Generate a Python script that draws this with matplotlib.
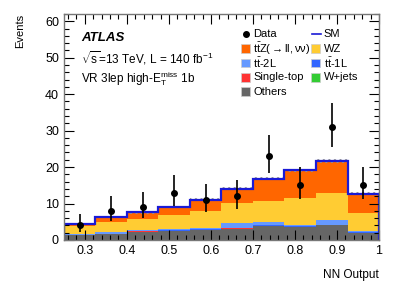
import numpy as np
import matplotlib.pyplot as plt
from matplotlib.patches import Rectangle
from matplotlib.ticker import MultipleLocator

plt.rcParams['font.family'] = ['Liberation Sans', 'DejaVu Sans']
plt.rcParams['mathtext.fontset'] = 'custom'
plt.rcParams['mathtext.rm'] = 'Liberation Sans'
plt.rcParams['mathtext.it'] = 'Liberation Sans:italic'

edges = [0.25, 0.325, 0.4, 0.475, 0.55, 0.625, 0.7, 0.775, 0.85, 0.925, 1.0]

# background stack, bottom to top
others = [1.3, 1.6, 2.3, 2.5, 2.8, 3.1, 3.8, 3.6, 4.0, 2.0]
single_top = [0.05, 0.0, 0.05, 0.0, 0.0, 0.1, 0.1, 0.05, 0.1, 0.0]
wjets = [0.0, 0.0, 0.0, 0.0, 0.0, 0.0, 0.0, 0.0, 0.0, 0.0]
tt1l = [0.0, 0.1, 0.1, 0.1, 0.1, 0.1, 0.1, 0.1, 0.1, 0.1]
tt2l = [0.2, 0.4, 0.4, 0.4, 0.4, 1.3, 0.9, 0.35, 1.3, 0.4]
wz = [2.2, 2.9, 3.0, 3.9, 4.6, 5.5, 5.9, 7.3, 7.3, 4.8]
ttz = [0.6, 1.2, 1.7, 2.1, 3.1, 4.0, 6.0, 7.7, 8.8, 5.4]
sm_unc = [0.3, 0.3, 0.35, 0.35, 0.4, 0.45, 0.45, 0.5, 0.5, 0.4]

data = [4, 8, 9, 13, 11, 12, 23, 15, 31, 15]
data_lo = [2.09, 5.24, 6.06, 9.45, 7.74, 8.59, 18.24, 11.17, 25.47, 11.17]
data_hi = [7.15, 11.94, 13.10, 17.69, 15.41, 16.55, 28.86, 19.95, 37.62, 19.95]

comps = [
    (others, '#666666', 'Others'),
    (single_top, '#ff3333', 'Single-top'),
    (wjets, '#33cc33', 'W+jets'),
    (tt1l, '#3366ff', r'$\mathrm{t\bar{t}}$-1L'),
    (tt2l, '#6699ff', r'$\mathrm{t\bar{t}}$-2L'),
    (wz, '#ffcc33', 'WZ'),
    (ttz, '#ff6600', r'$\mathrm{t\bar{t}Z(\rightarrow ll,\nu\nu)}$'),
]
sm_color = '#1a1ad6'

fig = plt.figure(figsize=(3.99, 2.86), dpi=100)
ax = fig.add_axes([0.160, 0.161, 0.790, 0.790])

edges = np.array(edges)
base = np.zeros(len(data))
for vals, col, lab in comps:
    vals = np.array(vals)
    ax.stairs(base + vals, edges, baseline=base, fill=True, color=col, lw=0)
    base = base + vals

total = base
unc = np.array(sm_unc)
ax.stairs(total + unc, edges, baseline=total - unc, fill=True, facecolor='none',
          edgecolor='#999999', hatch='//////', lw=0)
ax.stairs(total, edges, color=sm_color, lw=1.6)

centers = (edges[:-1] + edges[1:]) / 2
data = np.array(data)
yerr = [data - np.array(data_lo), np.array(data_hi) - data]
ax.errorbar(centers, data, yerr=yerr, fmt='o', color='black', ms=4, elinewidth=1.2,
            capsize=0, zorder=5)

ax.set_xlim(0.25, 1.0)
ax.set_ylim(0, 62)
ax.xaxis.set_major_locator(MultipleLocator(0.1))
ax.xaxis.set_minor_locator(MultipleLocator(0.02))
ax.yaxis.set_major_locator(MultipleLocator(10))
ax.yaxis.set_minor_locator(MultipleLocator(2))
ax.tick_params(which='both', direction='in', top=True, right=True, labelsize=9)
ax.tick_params(which='major', length=7, width=0.8)
ax.tick_params(which='minor', length=3.5, width=0.8)
ax.set_xticks([0.3, 0.4, 0.5, 0.6, 0.7, 0.8, 0.9, 1.0])
ax.set_xticklabels(['0.3', '0.4', '0.5', '0.6', '0.7', '0.8', '0.9', '1'])
for s in ax.spines.values():
    s.set_color('#777777')
    s.set_linewidth(1.0)

ax.set_ylabel('Events', loc='top', fontsize=8, labelpad=14)
ax.set_xlabel('NN Output', loc='right', fontsize=8.5, labelpad=9)

ax.text(0.054, 0.895, 'ATLAS', transform=ax.transAxes, fontsize=9.5,
        fontweight='bold', style='italic', va='center')
ax.text(0.054, 0.805, r'$\sqrt{\mathrm{s}}$=13 TeV, L = 140 fb$^{-1}$',
        transform=ax.transAxes, fontsize=8.5, va='center')
ax.text(0.054, 0.712, r'VR 3lep high-$\mathrm{E_T^{miss}}$ 1b',
        transform=ax.transAxes, fontsize=8.5, va='center')

# legend drawn by hand so the two columns line up
def px(x, y):
    return (x - 64) / 315, (240 - y) / 226

col_x = [241, 311]
row_y = [34, 48.5, 63, 77.5, 92]
names = {c[2]: c[1] for c in comps}
order = [
    (0, 0, 'data', 'Data'),
    (0, 1, 'patch', comps[6][2]),
    (0, 2, 'patch', comps[4][2]),
    (0, 3, 'patch', comps[1][2]),
    (0, 4, 'patch', comps[0][2]),
    (1, 0, 'line', 'SM'),
    (1, 1, 'patch', comps[5][2]),
    (1, 2, 'patch', comps[3][2]),
    (1, 3, 'patch', comps[2][2]),
]
for c, r, kind, lab in order:
    x0, y0 = col_x[c], row_y[r]
    if kind == 'patch':
        xa, ya = px(x0, y0 + 4.5)
        w = 9 / 315
        h = 9 / 226
        ax.add_patch(Rectangle((xa, ya), w, h, transform=ax.transAxes,
                               facecolor=names[lab], edgecolor='#cccccc', lw=0.5,
                               clip_on=False))
    elif kind == 'data':
        xa, ya = px(x0 + 5, y0)
        ax.plot([xa], [ya], 'o', color='black', ms=4, transform=ax.transAxes)
    else:
        xa1, ya = px(x0 + 1, y0)
        xa2, _ = px(x0 + 10, y0)
        ax.plot([xa1, xa2], [ya, ya], color=sm_color, lw=1.2, transform=ax.transAxes)
    tx, ty = px(x0 + 12.5, y0)
    ax.text(tx, ty, lab, transform=ax.transAxes, fontsize=8, va='center', ha='left')

fig.savefig('out.png', dpi=100)
